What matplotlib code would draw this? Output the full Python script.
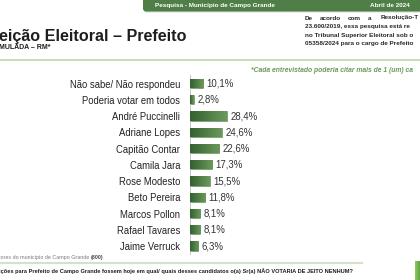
import matplotlib
matplotlib.use("Agg")
import matplotlib.pyplot as plt
from matplotlib.patches import FancyBboxPatch
import numpy as np

plt.rcParams['font.family'] = ['Liberation Sans', 'DejaVu Sans']

categories = ["Não sabe/ Não respondeu", "Poderia votar em todos", "André Puccinelli",
              "Adriane Lopes", "Capitão Contar", "Camila Jara", "Rose Modesto",
              "Beto Pereira", "Marcos Pollon", "Rafael Tavares", "Jaime Verruck"]
values = [10.1, 2.8, 28.4, 24.6, 22.6, 17.3, 15.5, 11.8, 8.1, 8.1, 6.3]
value_labels = ["10,1%", "2,8%", "28,4%", "24,6%", "22,6%", "17,3%", "15,5%",
                "11,8%", "8,1%", "8,1%", "6,3%"]

W, H = 420, 280
fig = plt.figure(figsize=(W / 100, H / 100), dpi=100)
fig.patch.set_facecolor('white')

bg = fig.add_axes([0, 0, 1, 1])
bg.set_xlim(0, W)
bg.set_ylim(H, 0)
bg.axis('off')

GREEN = '#4f7e47'
bg.add_patch(FancyBboxPatch((144, -10), 290, 22.5, boxstyle="round,pad=0,rounding_size=3",
                            facecolor='#d9d9d9', edgecolor='none', zorder=1))
bg.add_patch(FancyBboxPatch((143, -10), 290, 21.5, boxstyle="round,pad=0,rounding_size=3",
                            facecolor=GREEN, edgecolor='none', zorder=2))
bg.text(155, 5.5, "Pesquisa - Município de Campo Grande", color='white', fontsize=4.6,
        fontweight='bold', va='center', ha='left', zorder=3)
bg.text(370, 5.5, "Abril de 2024", color='white', fontsize=4.6, fontweight='bold',
        va='center', ha='left', zorder=3)

bg.text(-1, 41.5, "eição Eleitoral – Prefeito", color='#1e1e1e', fontsize=11.6,
        fontweight='bold', va='baseline', ha='left')
bg.text(-1, 49, "MULADA – RM*", color='#1e1e1e', fontsize=5.0, fontweight='bold',
        va='baseline', ha='left')

para_color = '#2a2a2a'
PF = 4.55
words1 = [("De", 305), ("acordo", 320), ("com", 348), ("a", 368), ("Resolução-T", 381)]
for w, x in words1:
    bg.text(x, 19.5, w, color=para_color, fontsize=PF, fontweight='bold', va='baseline', ha='left')
bg.text(305, 28, "23.600/2019, essa pesquisa está re", color=para_color, fontsize=PF,
        fontweight='bold', va='baseline', ha='left')
bg.text(305, 36.5, "no Tribunal Superior Eleitoral sob o", color=para_color, fontsize=PF,
        fontweight='bold', va='baseline', ha='left')
bg.text(305, 45, "05358/2024 para o cargo de Prefeito", color=para_color, fontsize=PF,
        fontweight='bold', va='baseline', ha='left')

bg.plot([0, W], [59.5, 59.5], color='#c5dbb5', lw=1.3, solid_capstyle='butt')
bg.text(251, 72, "*Cada entrevistado poderia citar mais de 1 (um) ca",
        color='#6b9a5a', fontsize=4.9, fontstyle='italic', fontweight='bold',
        va='baseline', ha='left')

bg.text(-1, 259.5, "tores do município de Campo Grande", color='#7a7a7a', fontsize=3.9,
        va='baseline', ha='left')
bg.text(91, 259.5, "(800)", color='#4a4a4a', fontsize=3.9, fontweight='bold',
        va='baseline', ha='left')
bg.plot([0, 363], [262.5, 262.5], color='#d3e3c6', lw=1.5, solid_capstyle='butt')
bg.text(-1, 273, "ições para Prefeito de Campo Grande fossem hoje em qual/ quais desses "
        "candidatos o(a) Sr(a) NÃO VOTARIA DE JEITO NENHUM?", color='#1e1e1e', fontsize=4.1,
        fontweight='bold', va='baseline', ha='left')
bg.imshow(np.dstack([np.linspace(0.55, 0.35, 50), np.linspace(0.8, 0.6, 50),
                     np.linspace(0.35, 0.25, 50)]).reshape(1, 50, 3),
          extent=(415, 421, 280, 261), aspect='auto', zorder=2)
bg.set_xlim(0, W)
bg.set_ylim(H, 0)

top_px, bot_px = 75, 254
left_px = 190
scale = 1.29
ax = fig.add_axes([left_px / W, 1 - bot_px / H, 120 / W, (bot_px - top_px) / H])
ax.set_facecolor('none')
n = len(categories)
ypos = np.arange(n)
bars = ax.barh(ypos, values, height=0.56, color='#3c6b36', edgecolor='#6f9a63', linewidth=0.4)

gimg = np.dstack([np.linspace(0.20, 0.42, 64), np.linspace(0.38, 0.60, 64),
                  np.linspace(0.19, 0.36, 64)]).reshape(1, 64, 3)
for b in bars:
    x0, y0 = b.get_x(), b.get_y()
    w, h = b.get_width(), b.get_height()
    im = ax.imshow(gimg, extent=(x0, x0 + w, y0 + h, y0), aspect='auto', zorder=3)
    im.set_clip_path(b)

for y, v, lab in zip(ypos, values, value_labels):
    ax.text(v + 2.7, y, lab, va='center', ha='left', fontsize=6.9, color='#333333', zorder=4)

ax.set_yticks(ypos)
ax.set_yticklabels(categories, fontsize=6.85, color='#222222')
ax.tick_params(axis='y', length=0, pad=7.2)
ax.set_xticks([])
for s in ['top', 'right', 'bottom']:
    ax.spines[s].set_visible(False)
ax.spines['left'].set_color('#bdbdbd')
ax.spines['left'].set_linewidth(0.6)
ax.set_ylim(n - 1 + 0.49, -0.523)
ax.set_xlim(0, 120 / scale)

fig.savefig('out.png', dpi=100)
